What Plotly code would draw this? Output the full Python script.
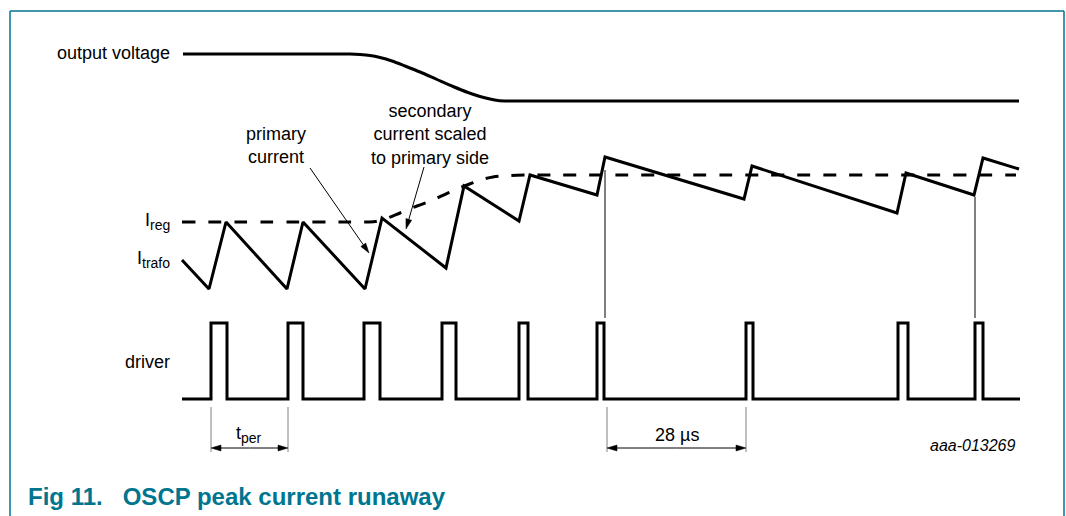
import math
import plotly.graph_objects as go

# ---------------- data (diagram units: x = time axis, y = level, screen-like) ----------------
vout_x = [183, 330, 350, 360, 370, 380, 392, 405, 420, 437, 453, 468, 480, 490, 498, 508, 525, 1019]
vout_y = [54, 54, 54, 54.5, 55.5, 57.5, 61, 66, 72, 79.5, 86.5, 92.5, 96.5, 99, 100.5, 101, 101, 101]

itrafo_x = [182, 209, 226, 287, 303, 365, 382, 446, 464, 519, 530, 597, 605, 744, 752, 897, 906, 974, 983, 1019]
itrafo_y = [260, 289, 222, 289, 222, 289, 218, 268, 186, 221, 175, 195, 157, 199, 166, 213, 173, 195, 158, 169]

ireg_x = [182, 350, 365, 375, 385, 400, 417, 433, 450, 467, 480, 493, 510, 530, 550, 1016]
ireg_y = [222, 222, 222, 221.5, 219, 213, 206, 200, 192, 185, 180, 177, 175.5, 175, 175, 175]

driver_on = [211, 288, 364, 442, 519, 597, 746, 898, 975]
driver_off = [227, 303, 380, 456, 528, 604, 753, 908, 983]
driver_start, driver_end = 182, 1020
driver_low, driver_high = 399, 323

sync_x = [605, 975]
sync_top = [170, 197]
sync_bottom = [318, 318]

tper_span = [211, 288]
t28_span = [607, 746]
dim_y = 448
ext_top, ext_bottom = 407, 452

primary_arrow = [(310, 168), (369, 253)]     # tail, tip
secondary_arrow = [(424, 167), (406, 229)]

SUB = '<sub><span style="font-size:14px">{}</span></sub>'
labels_left = ["output voltage", "I" + SUB.format("reg"), "I" + SUB.format("trafo"), "driver"]
label_left_y = [53, 221, 259, 362]

fig = go.Figure()

BLACK = "#000000"
FONT = "Liberation Sans, Arial, sans-serif"
TEAL = "#00758F"


def arrow(tail, tip, head_len=10, head_w=6, width=1):
    (x0, y0), (x1, y1) = tail, tip
    L = math.hypot(x1 - x0, y1 - y0)
    ux, uy = (x1 - x0) / L, (y1 - y0) / L
    bx, by = x1 - ux * head_len, y1 - uy * head_len
    px, py = -uy * head_w / 2, ux * head_w / 2
    fig.add_trace(go.Scatter(x=[x0, bx], y=[y0, by], mode="lines", line=dict(color=BLACK, width=width)))
    fig.add_trace(go.Scatter(x=[x1, bx + px, bx - px, x1], y=[y1, by + py, by - py, y1], mode="lines",
                             fill="toself", fillcolor=BLACK, line=dict(color=BLACK, width=0.5)))


fig.add_trace(go.Scatter(x=vout_x, y=vout_y, mode="lines",
                         line=dict(color=BLACK, width=3, shape="spline", smoothing=0.8)))
fig.add_trace(go.Scatter(x=ireg_x, y=ireg_y, mode="lines",
                         line=dict(color=BLACK, width=3, dash="13px,13px", shape="spline", smoothing=0.8)))
fig.add_trace(go.Scatter(x=itrafo_x, y=itrafo_y, mode="lines",
                         line=dict(color=BLACK, width=3)))

dx = [driver_start]
dy = [driver_low]
for on, off in zip(driver_on, driver_off):
    dx += [on, on, off, off]
    dy += [driver_low, driver_high, driver_high, driver_low]
dx.append(driver_end)
dy.append(driver_low)
fig.add_trace(go.Scatter(x=dx, y=dy, mode="lines", line=dict(color=BLACK, width=3)))

for sx, st, sb in zip(sync_x, sync_top, sync_bottom):
    fig.add_trace(go.Scatter(x=[sx, sx], y=[st, sb], mode="lines", line=dict(color=BLACK, width=1)))

for span in (tper_span, t28_span):
    for sx in span:
        fig.add_trace(go.Scatter(x=[sx, sx], y=[ext_top, ext_bottom], mode="lines",
                                 line=dict(color="#808080", width=1)))
    mid = (span[0] + span[1]) / 2
    arrow((mid, dim_y), (span[0], dim_y))
    arrow((mid, dim_y), (span[1], dim_y))

arrow(*primary_arrow)
arrow(*secondary_arrow)

for t, yy in zip(labels_left, label_left_y):
    fig.add_annotation(x=172, y=yy, text=t, showarrow=False, xanchor="right", yanchor="middle",
                       font=dict(family=FONT, size=18, color=BLACK))

fig.add_annotation(x=276, y=145, text="primary<br>current", showarrow=False, xanchor="center",
                   yanchor="middle", font=dict(family=FONT, size=18, color=BLACK))
fig.add_annotation(x=430, y=134, text="secondary<br>current scaled<br>to primary side", showarrow=False,
                   xanchor="center", yanchor="middle", font=dict(family=FONT, size=18, color=BLACK))

fig.add_annotation(x=249, y=434, text="t" + SUB.format("per"), showarrow=False, xanchor="center",
                   yanchor="middle", font=dict(family=FONT, size=18, color=BLACK))
fig.add_annotation(x=677, y=435, text="28 µs", showarrow=False, xanchor="center",
                   yanchor="middle", font=dict(family=FONT, size=18, color=BLACK))
fig.add_annotation(x=1018, y=445, text="<i>aaa-013269</i>", showarrow=False, xanchor="right",
                   yanchor="middle", font=dict(family=FONT, size=16, color=BLACK))

fig.add_annotation(x=26, y=496, text="<b>Fig 11.   OSCP peak current runaway</b>", showarrow=False,
                   xanchor="left", yanchor="middle",
                   font=dict(family=FONT, size=24, color=TEAL))

# frame
fig.add_shape(type="line", x0=10, x1=10, y0=11, y1=516, xref="x", yref="y", line=dict(color=TEAL, width=1.5))
fig.add_shape(type="line", x0=10, x1=1064, y0=11, y1=11, xref="x", yref="y", line=dict(color=TEAL, width=1.5))
fig.add_shape(type="line", x0=1064, x1=1064, y0=11, y1=516, xref="x", yref="y", line=dict(color=TEAL, width=1.5))

fig.update_layout(width=1066, height=516, margin=dict(l=0, r=0, t=0, b=0),
                  paper_bgcolor="white", plot_bgcolor="white", showlegend=False, hovermode=False,
                  xaxis=dict(range=[0, 1066], visible=False, fixedrange=True),
                  yaxis=dict(range=[516, 0], visible=False, fixedrange=True))

fig.write_html("out.html", config={"displayModeBar": False},
               post_script="document.body.style.margin='0';document.body.style.overflow='hidden';")
